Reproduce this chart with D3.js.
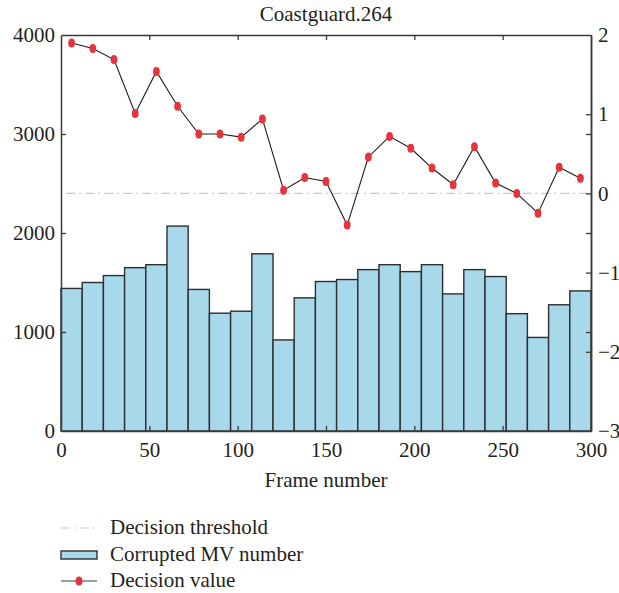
<!DOCTYPE html>
<html>
<head>
<meta charset="utf-8">
<script src="https://cdn.jsdelivr.net/npm/d3@7"></script>
<style>
  body { margin: 0; background: #fff; }
  svg text { font-family: "Liberation Serif", "Times New Roman", serif; fill: #231f20; }
</style>
</head>
<body>
<svg id="chart" width="619" height="593"></svg>
<script>
// Frame bins (centre frame of each 12-frame group)
const frameCenters = [6, 18, 30, 42, 54, 66, 78, 90, 102, 114, 126, 138, 150,
                      162, 174, 186, 198, 210, 222, 234, 246, 258, 270, 282, 294];
const binWidth = 12;

// Corrupted motion-vector count per bin (left axis)
const corruptedMV = [1440, 1500, 1570, 1650, 1680, 2070, 1430, 1190, 1210, 1790, 920, 1345, 1510,
                     1530, 1630, 1680, 1610, 1680, 1385, 1630, 1560, 1185, 945, 1275, 1415];

// Decision value per bin (right axis)
const decisionValue = [1.90, 1.83, 1.69, 1.01, 1.54, 1.10, 0.75, 0.75, 0.71, 0.94, 0.04, 0.20, 0.15,
                       -0.40, 0.46, 0.72, 0.57, 0.32, 0.11, 0.59, 0.13, 0.00, -0.25, 0.33, 0.19];

const decisionThreshold = 0;

const xTicks = [0, 50, 100, 150, 200, 250, 300];
const leftTicks = [0, 1000, 2000, 3000, 4000];
const rightTicks = [-3, -2, -1, 0, 1, 2];

const legendLabels = ["Decision threshold", "Corrupted MV number", "Decision value"];

const margin = { left: 61, top: 35, right: 28, bottom: 162 };
const W = 619, H = 593;
const svg = d3.select("#chart");

const x = d3.scaleLinear().domain([0, 300]).range([margin.left, W - margin.right]);
const yL = d3.scaleLinear().domain([0, 4000]).range([H - margin.bottom, margin.top]);
const yR = d3.scaleLinear().domain([-3, 2]).range([H - margin.bottom, margin.top]);

const axisColor = "#3a3a3a";
const barFill = "#a7d9eb";
const dotColor = "#e6343c";
const fs = 21;

// Bars
svg.append("g").selectAll("rect")
  .data(frameCenters)
  .join("rect")
  .attr("x", (d) => x(d - binWidth / 2))
  .attr("width", (d) => x(d + binWidth / 2) - x(d - binWidth / 2))
  .attr("y", (d, i) => yL(corruptedMV[i]))
  .attr("height", (d, i) => yL(0) - yL(corruptedMV[i]))
  .attr("fill", barFill)
  .attr("stroke", "#2e2e2e")
  .attr("stroke-width", 1.4);

// Threshold line
svg.append("line")
  .attr("x1", x(3)).attr("x2", x(300))
  .attr("y1", yR(decisionThreshold)).attr("y2", yR(decisionThreshold))
  .attr("stroke", "#c9c9c9")
  .attr("stroke-width", 1.1)
  .attr("stroke-dasharray", "9,4,2,4");

// Decision value line and markers
const line = d3.line().x((d) => x(d[0])).y((d) => yR(d[1]));
const pts = frameCenters.map((f, i) => [f, decisionValue[i]]);
svg.append("path")
  .attr("d", line(pts))
  .attr("fill", "none")
  .attr("stroke", "#1a1a1a")
  .attr("stroke-width", 1.1);
svg.append("g").selectAll("ellipse")
  .data(pts)
  .join("ellipse")
  .attr("cx", (d) => x(d[0]))
  .attr("cy", (d) => yR(d[1]))
  .attr("rx", 3.4)
  .attr("ry", 4.5)
  .attr("fill", dotColor);

// Axes
function styleAxis(g) {
  g.select(".domain").attr("stroke", axisColor).attr("stroke-width", 1.5);
  g.selectAll(".tick line").attr("stroke", axisColor).attr("stroke-width", 1.3);
  g.selectAll(".tick text").attr("font-size", fs).attr("fill", "#231f20")
    .attr("font-family", "'Liberation Serif', 'Times New Roman', serif");
}

// bottom
const gB = svg.append("g")
  .attr("transform", `translate(0,${yL(0)})`)
  .call(d3.axisBottom(x).tickValues(xTicks).tickSizeInner(-5).tickSizeOuter(0).tickPadding(11))
  .call(styleAxis);
gB.selectAll(".tick").filter((d) => d === 0 || d === 300).select("line").remove();

// top
const gT = svg.append("g")
  .attr("transform", `translate(0,${margin.top})`)
  .call(d3.axisTop(x).tickValues(xTicks).tickSizeInner(-5).tickSizeOuter(0).tickFormat(""))
  .call(styleAxis);
gT.selectAll(".tick").filter((d) => d === 0 || d === 300).select("line").remove();

// left
const gL = svg.append("g")
  .attr("transform", `translate(${margin.left},0)`)
  .call(d3.axisLeft(yL).tickValues(leftTicks).tickSizeInner(-5).tickSizeOuter(0).tickPadding(6).tickFormat(d3.format("d")))
  .call(styleAxis);
gL.selectAll(".tick").filter((d) => d === 0 || d === 4000).select("line").remove();

// right: mirrored left ticks
const gR1 = svg.append("g")
  .attr("transform", `translate(${W - margin.right},0)`)
  .call(d3.axisRight(yL).tickValues(leftTicks).tickSizeInner(-5).tickSizeOuter(0).tickFormat(""))
  .call(styleAxis);
gR1.selectAll(".tick").filter((d) => d === 0 || d === 4000).select("line").remove();

// right: decision value axis
const gR = svg.append("g")
  .attr("transform", `translate(${W - margin.right},0)`)
  .call(d3.axisRight(yR).tickValues(rightTicks).tickSizeInner(-5).tickSizeOuter(0).tickPadding(7).tickFormat(d3.format("d")))
  .call(styleAxis);
gR.selectAll(".tick").filter((d) => d === -3 || d === 2).select("line").remove();

// Title and axis label
svg.append("text")
  .attr("x", (x(0) + x(300)) / 2).attr("y", 21)
  .attr("text-anchor", "middle").attr("font-size", fs)
  .text("Coastguard.264");
svg.append("text")
  .attr("x", (x(0) + x(300)) / 2).attr("y", 487)
  .attr("text-anchor", "middle").attr("font-size", fs)
  .text("Frame number");

// Legend
const lg = svg.append("g");
const lx0 = 61, lx1 = 97, ltx = 110;
const rows = [528, 555, 581];
lg.append("line")
  .attr("x1", lx0).attr("x2", lx1).attr("y1", rows[0]).attr("y2", rows[0])
  .attr("stroke", "#c9c9c9").attr("stroke-width", 1.1).attr("stroke-dasharray", "9,4,2,4");
lg.append("rect")
  .attr("x", lx0).attr("y", rows[1] - 4).attr("width", lx1 - lx0).attr("height", 8)
  .attr("fill", barFill).attr("stroke", "#2e2e2e").attr("stroke-width", 1.4);
lg.append("line")
  .attr("x1", lx0).attr("x2", lx1).attr("y1", rows[2]).attr("y2", rows[2])
  .attr("stroke", "#3a3a3a").attr("stroke-width", 1.1);
lg.append("ellipse")
  .attr("cx", (lx0 + lx1) / 2).attr("cy", rows[2]).attr("rx", 3.4).attr("ry", 4.5)
  .attr("fill", dotColor);
lg.selectAll("text.lbl")
  .data(legendLabels)
  .join("text")
  .attr("class", "lbl")
  .attr("x", ltx)
  .attr("y", (d, i) => rows[i] + 6)
  .attr("font-size", fs)
  .text((d) => d);
</script>
</body>
</html>
